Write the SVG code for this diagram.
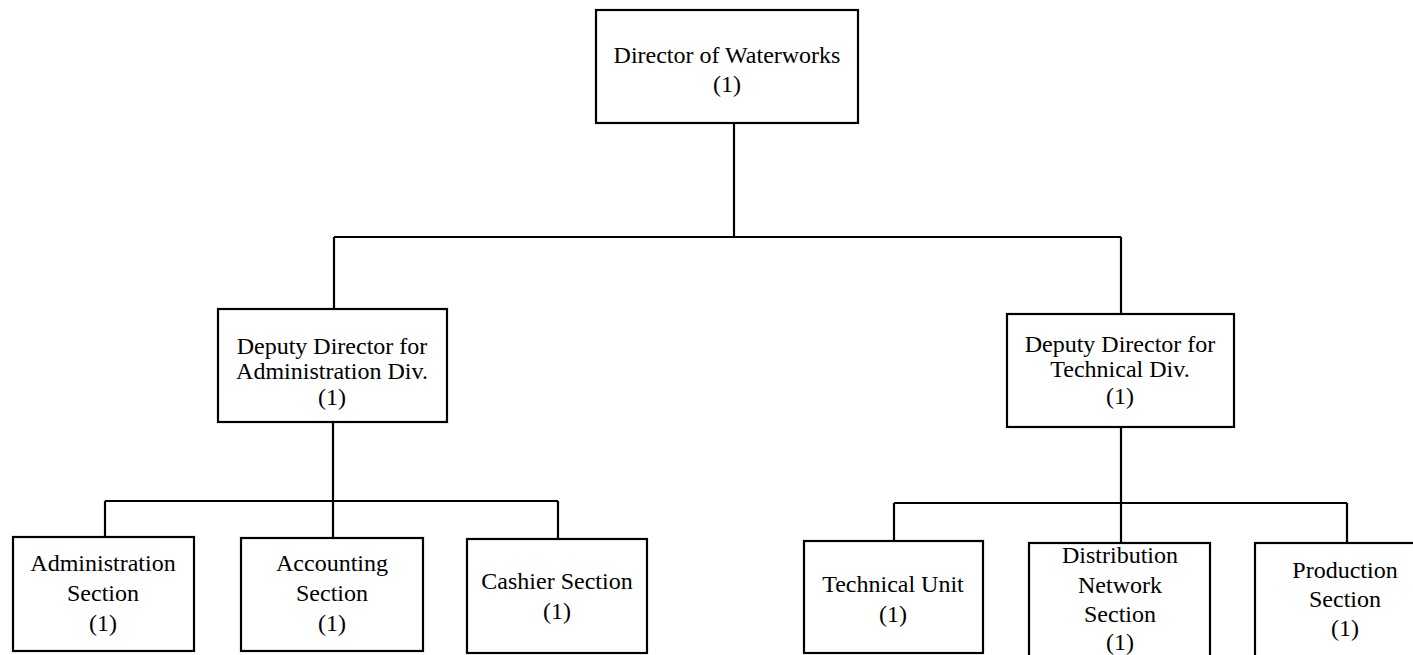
<svg xmlns="http://www.w3.org/2000/svg" width="1413" height="655" viewBox="0 0 1413 655">
<style>
.box{fill:#fff;stroke:#000;stroke-width:2.2}
.lbl{font-family:"Liberation Serif","Times New Roman",serif;font-size:24px;fill:#000;text-anchor:middle}
.con{fill:none;stroke:#000;stroke-width:2.2}
</style>
<rect width="1413" height="655" fill="#fff"/>
<g id="connectors">
<path class="con" d="M734,123 V237 M334,237 H1121 M334,237 V309 M1121,237 V314"/>
<path class="con" d="M333,422 V538 M105,501 H558 M105,501 V537 M558,501 V539"/>
<path class="con" d="M1121,427 V543 M894,503 H1347 M894,503 V541 M1347,503 V543"/>
</g>
<g id="director">
<rect class="box" x="596" y="10" width="262" height="113"/>
<text class="lbl" x="727" y="63">Director of Waterworks</text>
<text class="lbl" x="727" y="92">(1)</text>
</g>
<g id="deputy-admin">
<rect class="box" x="218" y="309" width="229" height="113"/>
<text class="lbl" x="332" y="354">Deputy Director for</text>
<text class="lbl" x="332" y="379">Administration Div.</text>
<text class="lbl" x="332" y="405">(1)</text>
</g>
<g id="deputy-tech">
<rect class="box" x="1007" y="314" width="227" height="113"/>
<text class="lbl" x="1120" y="352">Deputy Director for</text>
<text class="lbl" x="1120" y="377">Technical Div.</text>
<text class="lbl" x="1120" y="404">(1)</text>
</g>
<g id="admin-section">
<rect class="box" x="13" y="537" width="181" height="114"/>
<text class="lbl" x="103" y="571">Administration</text>
<text class="lbl" x="103" y="601">Section</text>
<text class="lbl" x="103" y="631">(1)</text>
</g>
<g id="accounting-section">
<rect class="box" x="241" y="538" width="182" height="113"/>
<text class="lbl" x="332" y="571">Accounting</text>
<text class="lbl" x="332" y="601">Section</text>
<text class="lbl" x="332" y="631">(1)</text>
</g>
<g id="cashier-section">
<rect class="box" x="467" y="539" width="180" height="114"/>
<text class="lbl" x="557" y="589">Cashier Section</text>
<text class="lbl" x="557" y="619">(1)</text>
</g>
<g id="technical-unit">
<rect class="box" x="804" y="541" width="179" height="112"/>
<text class="lbl" x="893" y="592">Technical Unit</text>
<text class="lbl" x="893" y="622">(1)</text>
</g>
<g id="distribution-section">
<rect class="box" x="1029" y="543" width="181" height="125"/>
<text class="lbl" x="1120" y="563">Distribution</text>
<text class="lbl" x="1120" y="593">Network</text>
<text class="lbl" x="1120" y="622">Section</text>
<text class="lbl" x="1120" y="650">(1)</text>
</g>
<g id="production-section">
<rect class="box" x="1255" y="543" width="181" height="125"/>
<text class="lbl" x="1345" y="578">Production</text>
<text class="lbl" x="1345" y="607">Section</text>
<text class="lbl" x="1345" y="636">(1)</text>
</g>
</svg>
